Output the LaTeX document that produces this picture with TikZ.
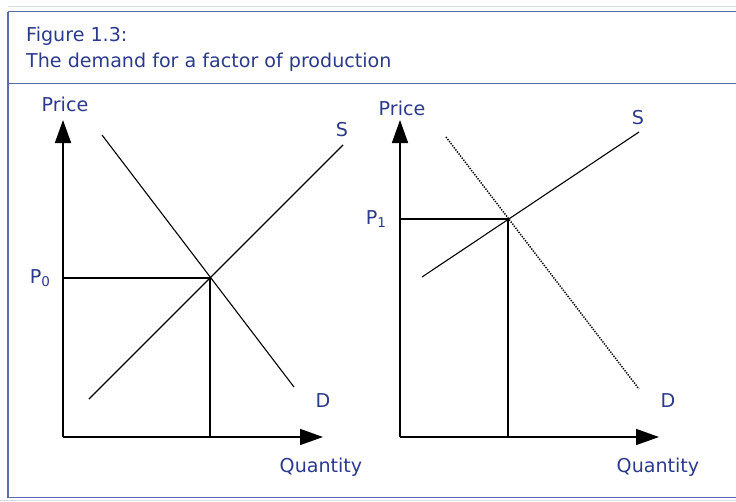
\documentclass[tikz,border=0pt]{standalone}
\usepackage{fontspec}
\setmainfont{DejaVu Sans}
\usetikzlibrary{arrows.meta}
\definecolor{txtblue}{HTML}{2B3A8C}
\definecolor{frameblue}{HTML}{5A69AE}
\definecolor{lightgray}{HTML}{D8DAE4}
\newcommand\mysub[1]{\raisebox{-3pt}{\fontsize{13.5}{13.5}\selectfont #1}}
\begin{document}
\begin{tikzpicture}[x=1pt,y=-1pt,
  lbl/.style={text=txtblue,font=\fontsize{19.1}{22}\selectfont,inner sep=0pt},
  axis/.style={line width=1.6pt,-{Triangle[length=23pt,width=16pt]}},
  curve/.style={line width=1.1pt},
  guide/.style={line width=1.1pt},
  dotcurve/.style={line width=1.5pt,dash pattern=on 1.3pt off 1.3pt}]
\useasboundingbox (0,0) rectangle (736,501);
% frame
\draw[lightgray,line width=1pt] (8,6) -- (736,6);
\draw[frameblue,line width=1.2pt] (8,11.5) -- (736,11.5);
\draw[frameblue,line width=1.2pt] (8,11.5) -- (8,497.5);
\draw[frameblue,line width=1.2pt] (8,83.5) -- (736,83.5);
\draw[frameblue,line width=1.2pt] (8,497.5) -- (736,497.5);
\draw[lightgray,line width=1pt] (0,500.5) -- (736,500.5);
% title
\node[lbl,anchor=west] (t1) at (26,36) {Figure 1.3:};
\node[lbl,anchor=west] (t2) at (26,62) {The demand for a factor of production};
% left chart
\coordinate (O1) at (63,437);
\coordinate (Y1) at (63,120);
\coordinate (X1) at (323,437);
\coordinate (E1) at (210,278);
\coordinate (P0y) at (63,278);
\coordinate (Q0) at (210,437);
\coordinate (D1a) at (102,135);
\coordinate (D1b) at (294,387);
\coordinate (S1a) at (89,399);
\coordinate (S1b) at (343,145);
\draw[axis] (O1) -- (Y1);
\draw[axis] (O1) -- (X1);
\draw[guide] (P0y) -- (E1) -- (Q0);
\draw[curve] (D1a) -- (D1b);
\draw[curve] (S1a) -- (S1b);
\node[lbl] (price1) at (65,104) {Price};
\node[lbl] (p0) at (40,278) {P\mysub{0}};
\node[lbl] (s1) at (342,130) {S};
\node[lbl] (d1) at (323,401) {D};
\node[lbl] (q1) at (321,467) {Quantity};
% right chart
\coordinate (O2) at (400,437);
\coordinate (Y2) at (400,120);
\coordinate (X2) at (659,437);
\coordinate (E2) at (508,219);
\coordinate (P1y) at (400,219);
\coordinate (Q1) at (508,437);
\coordinate (D2a) at (446,137);
\coordinate (D2b) at (639,389);
\coordinate (S2a) at (422,277);
\coordinate (S2b) at (639,132);
\draw[axis] (O2) -- (Y2);
\draw[axis] (O2) -- (X2);
\draw[guide] (P1y) -- (E2) -- (Q1);
\draw[dotcurve] (D2a) -- (D2b);
\draw[curve] (S2a) -- (S2b);
\node[lbl] (price2) at (402,108) {Price};
\node[lbl] (p1) at (376,219) {P\mysub{1}};
\node[lbl] (s2) at (638,118) {S};
\node[lbl] (d2) at (668,401) {D};
\node[lbl] (q2) at (658,467) {Quantity};
\end{tikzpicture}
\end{document}
